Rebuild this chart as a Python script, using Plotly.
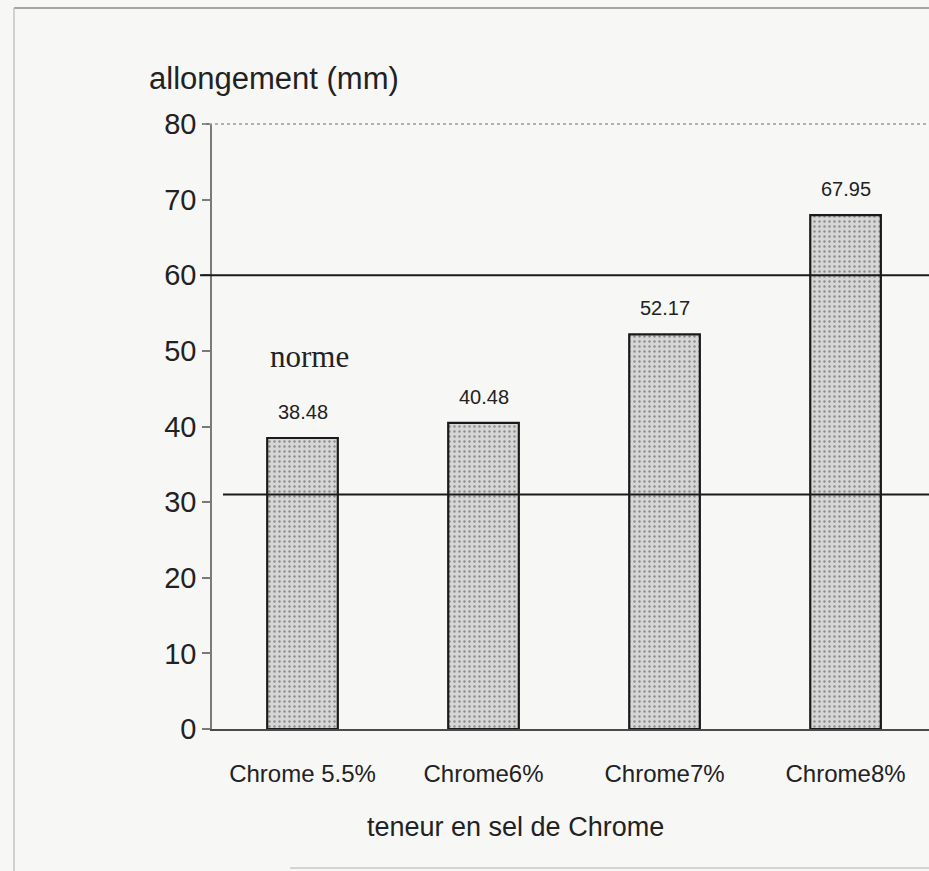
import plotly.graph_objects as go

# Data
categories = ["Chrome 5.5%", "Chrome6%", "Chrome7%", "Chrome8%"]
elongation_mm = [38.48, 40.48, 52.17, 67.95]
norm_low = 31
norm_high = 60
y_ticks = [0, 10, 20, 30, 40, 50, 60, 70, 80]

W, H = 929, 871
L, R, T, B = 212, 0, 124, 142
pw, ph = W - L - R, H - T - B


def px(x):
    return (x - L) / pw


def py(y):
    return (H - B - y) / ph


SANS = "Liberation Sans, Arial, sans-serif"
SERIF = "Liberation Serif, Times New Roman, serif"
BG = "#f7f7f6"

fig = go.Figure()
xs = list(range(len(categories)))
fig.add_trace(go.Bar(
    x=xs, y=elongation_mm, width=0.39,
    marker=dict(
        color="#d3d3d3",
        line=dict(color="#1a1a1a", width=2.2),
        pattern=dict(shape=".", fgcolor="#8c8c8c", bgcolor="#d6d6d6",
                     size=5, solidity=0.18, fillmode="replace"),
    ),
    hoverinfo="skip", showlegend=False,
))

annotations = []
for i, v in enumerate(elongation_mm):
    annotations.append(dict(
        x=i, y=v, xref="x", yref="y", text=f"{v:.2f}", showarrow=False,
        yanchor="bottom", yshift=13, font=dict(family=SANS, size=20, color="#222"),
    ))
annotations.append(dict(
    x=0.04, y=49.2, xref="x", yref="y", text="norme", showarrow=False,
    font=dict(family=SERIF, size=31, color="#222"),
))
annotations.append(dict(
    x=px(147), y=py(78), xref="paper", yref="paper", text="allongement (mm)",
    showarrow=False, xanchor="left", yanchor="middle",
    font=dict(family=SANS, size=31, color="#222"),
))
annotations.append(dict(
    x=px(515), y=py(827), xref="paper", yref="paper", text="teneur en sel de Chrome",
    showarrow=False, xanchor="center", yanchor="middle",
    font=dict(family=SANS, size=27, color="#222"),
))

shapes = [
    # norm limits
    dict(type="line", xref="paper", yref="y", x0=px(200), x1=1, y0=norm_high, y1=norm_high,
         line=dict(color="#1a1a1a", width=2)),
    dict(type="line", xref="paper", yref="y", x0=px(223), x1=1, y0=norm_low, y1=norm_low,
         line=dict(color="#1a1a1a", width=2)),
    # plot area top border
    dict(type="line", xref="paper", yref="paper", x0=px(203), x1=1, y0=1, y1=1,
         line=dict(color="#9a9a9a", width=1.5, dash="dot")),
    # outer frame
    dict(type="line", xref="paper", yref="paper", x0=px(14), x1=1, y0=py(8), y1=py(8),
         line=dict(color="#8a8a8a", width=1.5)),
    dict(type="line", xref="paper", yref="paper", x0=px(14), x1=px(14), y0=py(8), y1=py(871),
         line=dict(color="#c4c4c4", width=1.5)),
    dict(type="line", xref="paper", yref="paper", x0=px(290), x1=1, y0=py(868), y1=py(868),
         line=dict(color="#c8c8c8", width=1.5)),
]

fig.update_layout(
    width=W, height=H,
    margin=dict(l=L, r=R, t=T, b=B, pad=0),
    paper_bgcolor=BG, plot_bgcolor=BG,
    bargap=0.6,
    annotations=annotations,
    shapes=shapes,
    xaxis=dict(
        range=[-0.5, 3.461], tickmode="array", tickvals=xs, ticktext=categories,
        showgrid=False, zeroline=False, showline=True, linecolor="#4a4a4a", linewidth=2,
        ticks="", ticklabelstandoff=22,
        tickfont=dict(family=SANS, size=24, color="#222"), fixedrange=True,
    ),
    yaxis=dict(
        range=[0, 80], tickmode="array", tickvals=y_ticks,
        showgrid=False, zeroline=False, showline=True, linecolor="#7a7a7a", linewidth=1.5,
        ticks="outside", ticklen=8, tickcolor="#7a7a7a", tickwidth=1.5,
        tickfont=dict(family=SANS, size=29, color="#222"), fixedrange=True,
    ),
)

fig.write_html("out.html", config={"displayModeBar": False})
